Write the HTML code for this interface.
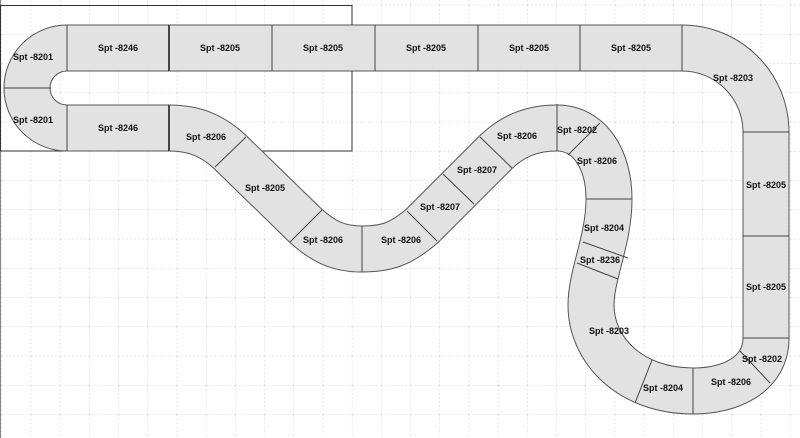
<!DOCTYPE html>
<html><head><meta charset="utf-8"><style>
html,body{margin:0;padding:0;background:#fff;}
svg{display:block;}
text{font-family:"Liberation Sans",sans-serif;font-size:9px;font-weight:bold;fill:#111;text-anchor:middle;dominant-baseline:central;}
</style></head><body>
<svg width="800" height="438" viewBox="0 0 800 438" xmlns="http://www.w3.org/2000/svg">
<defs>
<pattern id="g" x="1.5" y="4.8" width="29.2" height="29.25" patternUnits="userSpaceOnUse">
<path d="M0 0V29.25M0 0H29.2" stroke="#cfcfcf" stroke-width="1" stroke-dasharray="2,2" fill="none"/>
</pattern>
</defs>
<rect width="800" height="438" fill="#fff"/>
<rect width="800" height="438" fill="url(#g)"/>
<line x1="0.5" y1="0" x2="0.5" y2="438" stroke="#888" stroke-width="1"/>
<rect x="0.5" y="5.5" width="351.5" height="145.5" fill="none" stroke="#333" stroke-width="1"/>

<g fill="none" stroke-linejoin="round">
<path id="t" d="M169,128 L67,128 A40 40 0 0 1 67,48 L682,48 A84 84 0 0 1 766,132 L766,338 C766,375 730,391 693,391 C630,391 591,350 591,305 C591,275 609,240 609,199 C609,160 590,128 557,128 C530,128 512,137 496,152 L422,226 C400,245 385,249 362,249 C340,249 325,243 306,226 L230,152 C213,136 195,128 169,128 Z" stroke="#555" stroke-width="47"/>
<path d="M169,128 L67,128 A40 40 0 0 1 67,48 L682,48 A84 84 0 0 1 766,132 L766,338 C766,375 730,391 693,391 C630,391 591,350 591,305 C591,275 609,240 609,199 C609,160 590,128 557,128 C530,128 512,137 496,152 L422,226 C400,245 385,249 362,249 C340,249 325,243 306,226 L230,152 C213,136 195,128 169,128 Z" stroke="#e2e2e2" stroke-width="45"/>
</g>

<g stroke="#444" stroke-width="1">
<line x1="67" y1="25" x2="67" y2="71"/>
<line x1="169" y1="25" x2="169" y2="71" stroke-width="2"/>
<line x1="272" y1="25" x2="272" y2="71"/>
<line x1="375" y1="25" x2="375" y2="71"/>
<line x1="478" y1="25" x2="478" y2="71"/>
<line x1="580" y1="25" x2="580" y2="71"/>
<line x1="682" y1="25" x2="682" y2="71"/>
<line x1="4" y1="88" x2="51" y2="88"/>
<line x1="67" y1="105" x2="67" y2="151"/>
<line x1="169" y1="105" x2="169" y2="151" stroke-width="2"/>
<line x1="215" y1="167" x2="246" y2="137"/>
<line x1="290" y1="242" x2="322" y2="210"/>
<line x1="362" y1="226" x2="362" y2="272"/>
<line x1="407" y1="211" x2="437" y2="241"/>
<line x1="443" y1="174" x2="474" y2="204"/>
<line x1="480" y1="137" x2="512" y2="168"/>
<line x1="557" y1="104" x2="557" y2="151"/>
<line x1="600" y1="123" x2="568" y2="155"/>
<line x1="586" y1="199" x2="632" y2="199"/>
<line x1="583" y1="242" x2="628" y2="258"/>
<line x1="577" y1="263" x2="618" y2="279"/>
<line x1="652" y1="360" x2="635" y2="403"/>
<line x1="693" y1="368" x2="693" y2="414"/>
<line x1="740" y1="351" x2="770" y2="383"/>
<line x1="743" y1="338" x2="789" y2="338"/>
<line x1="743" y1="236" x2="789" y2="236"/>
<line x1="743" y1="132" x2="789" y2="132"/>
</g>

<text x="33" y="57">Spt -8201</text>
<text x="33" y="120">Spt -8201</text>
<text x="118" y="48">Spt -8246</text>
<text x="118" y="128">Spt -8246</text>
<text x="220" y="48">Spt -8205</text>
<text x="323" y="48">Spt -8205</text>
<text x="426" y="48">Spt -8205</text>
<text x="529" y="48">Spt -8205</text>
<text x="631" y="48">Spt -8205</text>
<text x="733" y="78">Spt -8203</text>
<text x="206" y="137">Spt -8206</text>
<text x="265" y="188">Spt -8205</text>
<text x="323" y="240">Spt -8206</text>
<text x="401" y="240">Spt -8206</text>
<text x="440" y="207">Spt -8207</text>
<text x="477" y="170">Spt -8207</text>
<text x="517" y="136">Spt -8206</text>
<text x="577" y="130">Spt -8202</text>
<text x="597" y="161">Spt -8206</text>
<text x="604" y="228">Spt -8204</text>
<text x="600" y="260">Spt -8236</text>
<text x="609" y="331">Spt -8203</text>
<text x="663" y="388">Spt -8204</text>
<text x="731" y="382">Spt -8206</text>
<text x="762" y="359">Spt -8202</text>
<text x="766" y="185">Spt -8205</text>
<text x="766" y="287">Spt -8205</text>
</svg>
</body></html>
